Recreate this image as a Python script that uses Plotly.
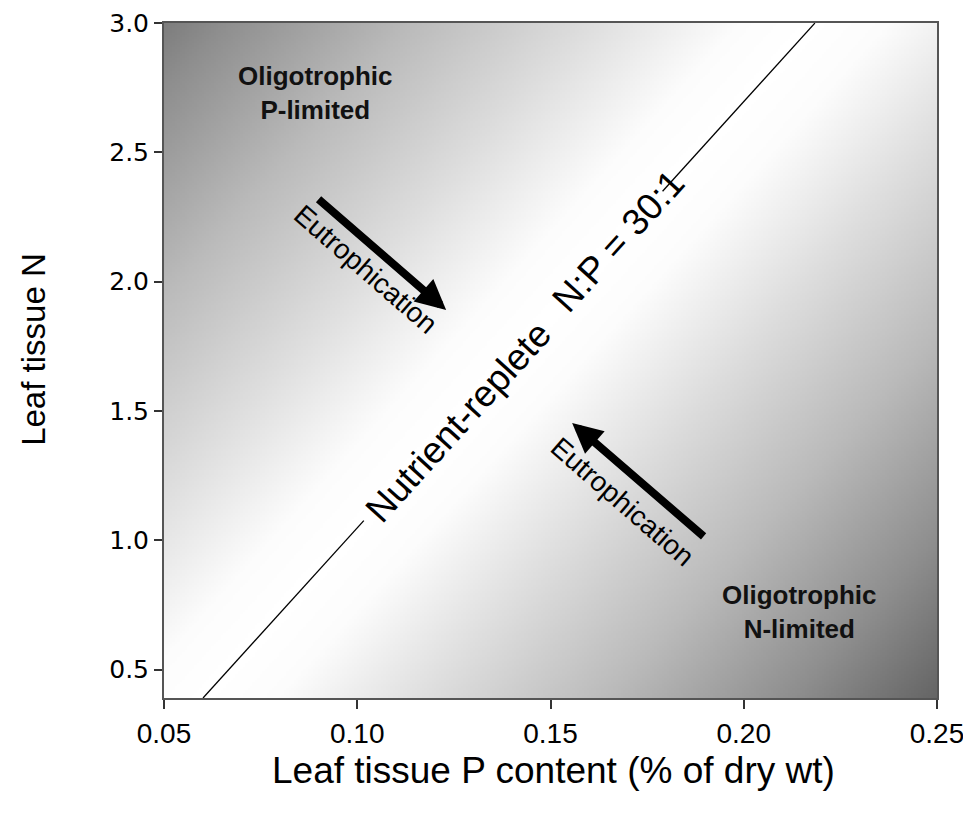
import numpy as np
import plotly.graph_objects as go

# Axis ranges and ticks
x_range = [0.05, 0.25]
y_range = [0.39, 3.0005]
x_ticks = [0.05, 0.10, 0.15, 0.20, 0.25]
x_tick_labels = ["0.05", "0.10", "0.15", "0.20", "0.25"]
y_ticks = [0.5, 1.0, 1.5, 2.0, 2.5, 3.0]
y_tick_labels = ["0.5", "1.0", "1.5", "2.0", "2.5", "3.0"]

# N:P = 30:1 reference line (drawn with a gap for its label)
np_line_x = [0.0601, 0.1017, None, 0.1790, 0.2184]
np_line_y = [0.39, 1.076, None, 2.35, 3.0]

# Eutrophication arrows (tail -> head)
arrow_tail_x = [0.0896, 0.1900]
arrow_tail_y = [2.324, 1.010]
arrow_head_x = [0.1230, 0.1556]
arrow_head_y = [1.891, 1.454]

# Background shading: grey level by distance from the N:P line
W, H = 971, 825
L, R, T, B = 156, 42, 15, 135
pw, ph = W - L - R, H - T - B
gx = np.linspace(x_range[0], x_range[1], 320)
gy = np.linspace(y_range[0], y_range[1], 320)
GX, GY = np.meshgrid(gx, gy)
px = (GX - x_range[0]) / (x_range[1] - x_range[0]) * pw
py = (y_range[1] - GY) / (y_range[1] - y_range[0]) * ph
x0p = (np_line_x[0] - x_range[0]) / (x_range[1] - x_range[0]) * pw
y0p = (y_range[1] - np_line_y[0]) / (y_range[1] - y_range[0]) * ph
x1p = (np_line_x[-1] - x_range[0]) / (x_range[1] - x_range[0]) * pw
y1p = (y_range[1] - np_line_y[-1]) / (y_range[1] - y_range[0]) * ph
dx, dy = x1p - x0p, y1p - y0p
dist = np.abs(dx * (py - y0p) - dy * (px - x0p)) / np.hypot(dx, dy)

fig = go.Figure()
fig.add_trace(go.Heatmap(
    x=gx, y=gy, z=dist, zmin=0, zmax=545, showscale=False, hoverinfo="skip",
    colorscale=[[0, "#ffffff"], [0.1, "#fcfcfc"], [0.3, "#dedede"],
                [0.55, "#bababa"], [0.8, "#8e8e8e"], [1, "#646464"]],
))
fig.add_trace(go.Scatter(
    x=np_line_x, y=np_line_y, mode="lines",
    line=dict(color="black", width=1.3), hoverinfo="skip", showlegend=False,
))

for tx, ty, hx, hy in zip(arrow_tail_x, arrow_tail_y, arrow_head_x, arrow_head_y):
    fig.add_annotation(x=hx, y=hy, ax=tx, ay=ty, xref="x", yref="y",
                       axref="x", ayref="y", text="", showarrow=True,
                       arrowhead=2, arrowsize=0.75, arrowwidth=8,
                       arrowcolor="black", standoff=0)

txt_font = "Liberation Sans, Arial, sans-serif"
fig.add_annotation(x=0.0893, y=2.73, text="<b>Oligotrophic<br>P-limited</b>",
                   showarrow=False, font=dict(family=txt_font, size=26, color="#111111"))
fig.add_annotation(x=0.2143, y=0.724, text="<b>Oligotrophic<br>N-limited</b>",
                   showarrow=False, font=dict(family=txt_font, size=26, color="#111111"))
fig.add_annotation(x=0.1022, y=2.046, text="Eutrophication", textangle=41,
                   showarrow=False, font=dict(family=txt_font, size=28, color="black"))
fig.add_annotation(x=0.1685, y=1.149, text="Eutrophication", textangle=41,
                   showarrow=False, font=dict(family=txt_font, size=28, color="black"))
fig.add_annotation(x=0.1263, y=1.458, text="Nutrient-replete", textangle=-47.8,
                   showarrow=False, font=dict(family=txt_font, size=37, color="black"))
fig.add_annotation(x=0.1675, y=2.155, text="N:P = 30:1", textangle=-47.8,
                   showarrow=False, font=dict(family=txt_font, size=37, color="black"))

# Axis titles
fig.add_annotation(xref="paper", yref="paper", x=0.5045, y=-0.108,
                   text="Leaf tissue P content (% of dry wt)", showarrow=False,
                   xanchor="center", yanchor="middle",
                   font=dict(family=txt_font, size=37, color="black"))
fig.add_annotation(xref="paper", yref="paper", x=-0.168, y=0.516,
                   text="Leaf tissue N", showarrow=False, textangle=-90,
                   xanchor="center", yanchor="middle",
                   font=dict(family=txt_font, size=33, color="black"))

fig.update_layout(
    width=W, height=H,
    margin=dict(l=L, r=R, t=T, b=B),
    paper_bgcolor="white", plot_bgcolor="white",
    showlegend=False,
    xaxis=dict(range=x_range, tickvals=x_ticks, ticktext=x_tick_labels,
               ticks="outside", ticklen=9, tickwidth=1.5, tickcolor="#333",
               showline=True, linecolor="#555", linewidth=2, mirror=True,
               showgrid=False, zeroline=False, automargin=False,
               tickfont=dict(family=txt_font, size=28, color="black")),
    yaxis=dict(range=y_range, tickvals=y_ticks, ticktext=y_tick_labels,
               ticks="outside", ticklen=8, tickwidth=1.5, tickcolor="#333",
               showline=True, linecolor="#555", linewidth=2, mirror=True,
               showgrid=False, zeroline=False, automargin=False,
               ticklabeloverflow="allow",
               tickfont=dict(family="DejaVu Sans, sans-serif", size=25, color="black")),
)

fig.write_html("out.html")
